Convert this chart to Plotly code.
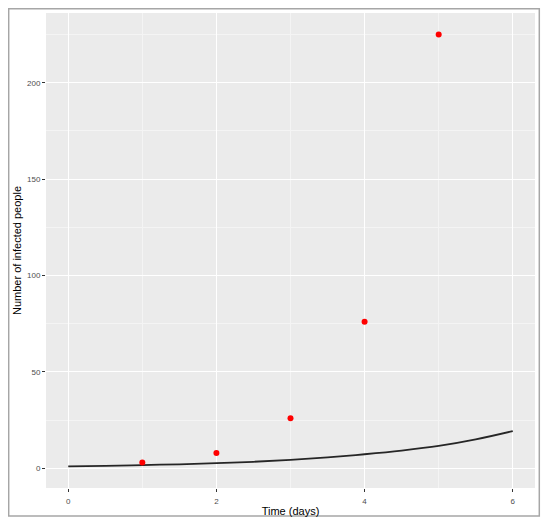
import plotly.graph_objects as go

# Observed infections per day (red points)
days = [1, 2, 3, 4, 5]
infected = [3, 8, 26, 76, 225]

# Model curve (black line)
curve_t = [0, 0.5, 1, 1.5, 2, 2.5, 3, 3.5, 4, 4.5, 5, 5.5, 6]
curve_y = [1.0, 1.3, 1.7, 2.1, 2.7, 3.4, 4.4, 5.7, 7.3, 9.2, 11.6, 15.0, 19.3]

x_ticks = [0, 2, 4, 6]
y_ticks = [0, 50, 100, 150, 200]

fig = go.Figure()

fig.add_trace(go.Scatter(
    x=curve_t, y=curve_y, mode='lines',
    line=dict(color='#262626', width=1.8, shape='spline'),
    showlegend=False,
))
fig.add_trace(go.Scatter(
    x=days, y=infected, mode='markers',
    marker=dict(color='#ff0000', size=6),
    showlegend=False,
))

# page body has an 8px margin, so the figure is a bit smaller than the window
fig.update_layout(
    width=533, height=512,
    margin=dict(l=38, r=6, t=5, b=30),
    paper_bgcolor='white',
    plot_bgcolor='#ebebeb',
    font=dict(family='Liberation Sans, Arial, sans-serif', color='#4d4d4d', size=8),
)

fig.update_xaxes(
    range=[-0.3, 6.3],
    tickvals=x_ticks,
    showgrid=True, gridcolor='white', gridwidth=1.3,
    minor=dict(tick0=0, dtick=1, showgrid=True, gridcolor='#f4f4f4', gridwidth=0.6),
    zeroline=False, showline=False,
    ticks='outside', ticklen=3, tickcolor='#333333', tickwidth=1,
    ticklabelstandoff=2,
    title=dict(text='Time (days)', font=dict(size=11, color='black'), standoff=2),
)
fig.update_yaxes(
    range=[-10.2, 236.2],
    tickvals=y_ticks,
    showgrid=True, gridcolor='white', gridwidth=1.3,
    minor=dict(tick0=25, dtick=50, showgrid=True, gridcolor='#f4f4f4', gridwidth=0.6),
    zeroline=False, showline=False,
    ticks='outside', ticklen=3, tickcolor='#333333', tickwidth=1,
    title=dict(text='Number of infected people', font=dict(size=11, color='black'), standoff=3),
)

# grey frame around the whole picture
fig.add_shape(
    type='rect', xref='paper', yref='paper',
    x0=-0.0763, x1=1.0088, y0=-0.0587, y1=1.009,
    line=dict(color='#a6a6a6', width=1.5),
    layer='below',
)

fig.write_html("out.html")
